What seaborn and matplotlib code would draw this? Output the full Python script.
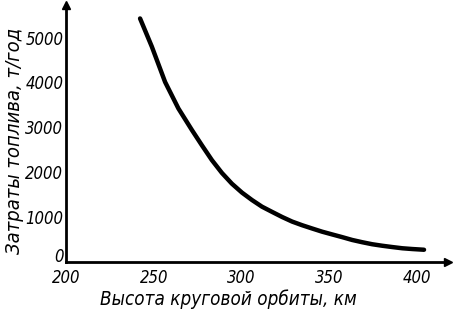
import pandas as pd
import matplotlib.pyplot as plt
import seaborn as sns

# data
height_km = [242.2, 248.9, 256.5, 264.1, 271.8, 277.5, 283.2, 288.9, 294.6,
             300.4, 306.1, 311.8, 317.5, 323.3, 329.0, 334.7, 340.4, 346.1,
             351.9, 357.6, 363.3, 369.0, 374.7, 380.5, 386.2, 391.9, 397.6,
             404.3]
fuel_t_per_year = [5427, 4801, 4010, 3420, 2940, 2600, 2270, 1985, 1745,
                   1545, 1380, 1232, 1117, 1002, 900, 819, 746, 675,
                   613, 553, 490, 440, 395, 361, 332, 305, 288,
                   272]
x_ticks = [200, 250, 300, 350, 400]
y_ticks = [0, 1000, 2000, 3000, 4000, 5000]

sns.set_style("white")
plt.rcParams['font.family'] = ['DejaVu Sans']
plt.rcParams['font.style'] = 'italic'
plt.rcParams['font.stretch'] = 'condensed'
plt.rcParams['text.color'] = 'black'
plt.rcParams['axes.labelcolor'] = 'black'
plt.rcParams['xtick.color'] = 'black'
plt.rcParams['ytick.color'] = 'black'

df = pd.DataFrame({'h': height_km, 'fuel': fuel_t_per_year})

fig = plt.figure(figsize=(4.53, 3.25), dpi=100)
ax = fig.add_axes([0.146, 0.194, 0.843, 0.791])

sns.lineplot(data=df, x='h', y='fuel', color='black', linewidth=3.2, ax=ax)

ax.set_xlim(200, 418)
ax.set_ylim(0, 5730)
ax.set_xticks(x_ticks)
ax.set_yticks(y_ticks)
ax.tick_params(direction='in', length=3, width=1, labelsize=12)
ax.tick_params(axis='x', pad=5)
ax.tick_params(axis='y', pad=2)
# lift the "0" a little so it clears the "200"
ax.get_yticklabels()[0].set_va('baseline')

for s in ['top', 'right']:
    ax.spines[s].set_visible(False)
for s in ['left', 'bottom']:
    ax.spines[s].set_linewidth(2)
    ax.spines[s].set_color('black')

# axis arrows
ax.plot(1, 0, '>k', markersize=6, transform=ax.transAxes, clip_on=False)
ax.plot(0, 1, '^k', markersize=6, transform=ax.transAxes, clip_on=False)

ax.set_xlabel('Высота круговой орбиты, км', fontsize=13.5)
ax.set_ylabel('Затраты топлива, т/год', fontsize=14.5)
ax.xaxis.set_label_coords(0.424, -0.105)
ax.yaxis.set_label_coords(-0.11, 0.47)

plt.savefig('out.png', dpi=100)
